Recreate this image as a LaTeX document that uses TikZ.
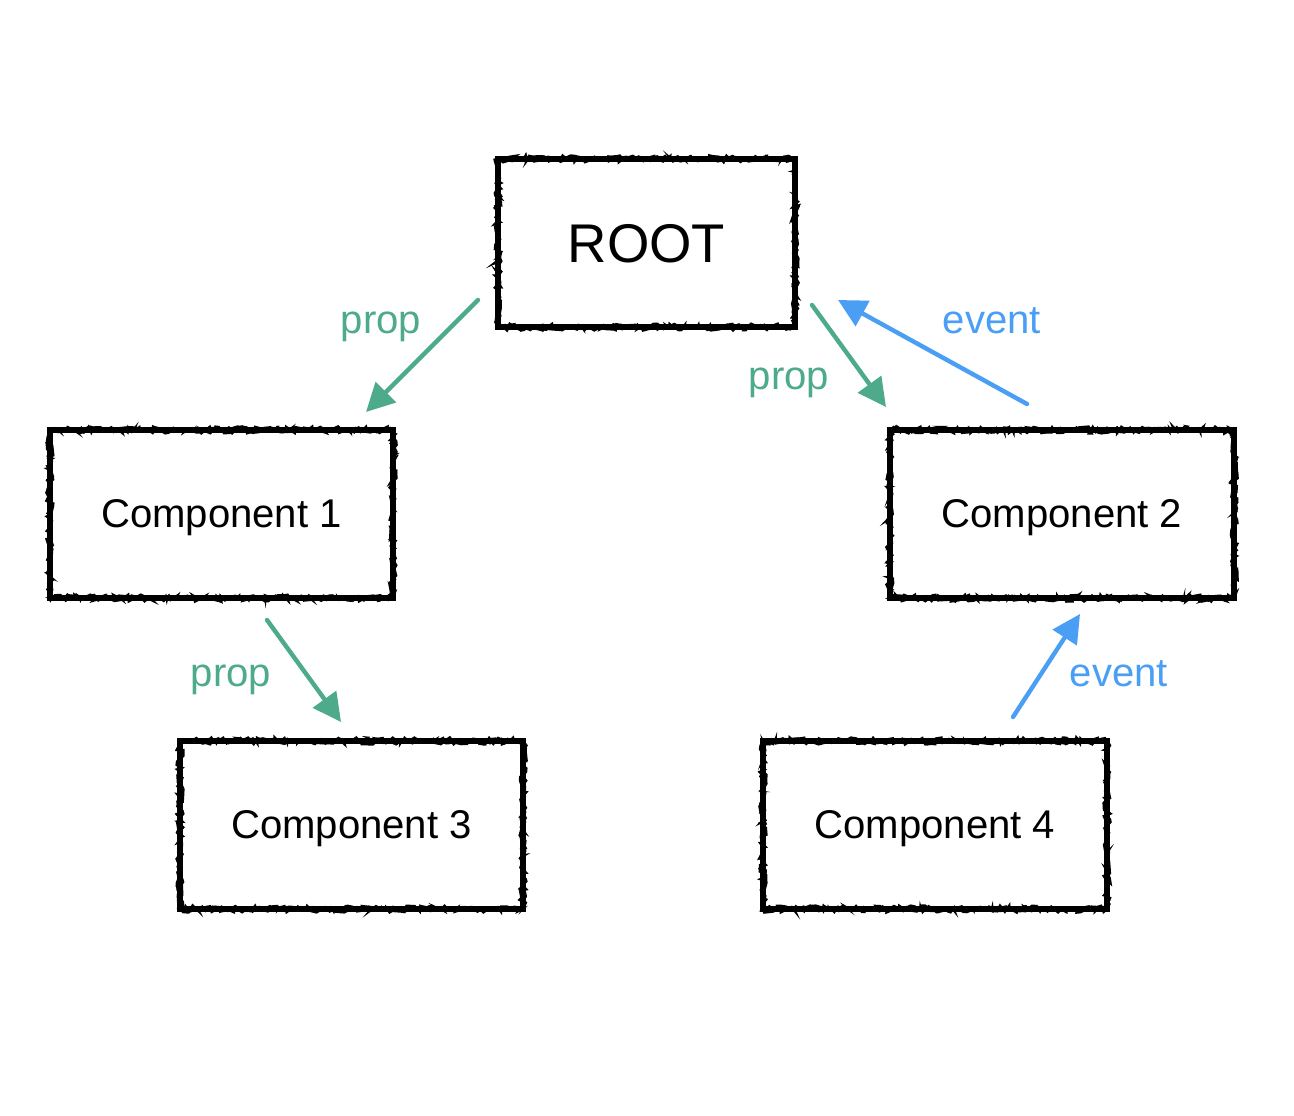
\documentclass[tikz,border=0pt]{standalone}
\usepackage{fontspec}
\setmainfont{Liberation Sans}
\usetikzlibrary{decorations.pathmorphing,arrows.meta}
\definecolor{propgreen}{HTML}{4DAA8A}
\definecolor{eventblue}{HTML}{4A9FF5}
\begin{document}
\begin{tikzpicture}[x=0.01cm,y=-0.01cm,
  sketchbox/.style={draw=black, line width=1.7pt, minimum height=1.68cm, inner sep=0pt, text depth=0pt,
    font=\fontsize{11.4pt}{13pt}\selectfont,
    postaction={draw, line width=0.7pt, decorate, decoration={random steps, segment length=1.2pt, amplitude=1.0pt}},
    preaction={draw, line width=0.5pt, decorate, decoration={random steps, segment length=0.9pt, amplitude=1.1pt}}},
  proparrow/.style={draw=propgreen, line width=1.25pt, line cap=round, -{Triangle[length=8pt,width=8pt]}},
  eventarrow/.style={draw=eventblue, line width=1.25pt, line cap=round, -{Triangle[length=8pt,width=8pt]}},
  proplabel/.style={text=propgreen, font=\fontsize{11.4pt}{13pt}\selectfont, inner sep=0pt},
  eventlabel/.style={text=eventblue, font=\fontsize{11.4pt}{13pt}\selectfont, inner sep=0pt}
]
\useasboundingbox (0,0) rectangle (1294,1116);
\fill[white] (0,0) rectangle (1294,1116);

\node[sketchbox, minimum width=2.97cm, font=\fontsize{15.5pt}{18pt}\selectfont] (root) at (646.5,243) {ROOT};
\node[sketchbox, minimum width=3.43cm] (c1) at (221.5,514) {Component 1};
\node[sketchbox, minimum width=3.44cm] (c2) at (1062,514) {Component 2};
\node[sketchbox, minimum width=3.43cm] (c3) at (351.5,825) {Component 3};
\node[sketchbox, minimum width=3.44cm] (c4) at (935,825) {Component 4};

\coordinate (a1s) at (478,300);
\coordinate (a1e) at (366,412);
\coordinate (a2s) at (812,305);
\coordinate (a2e) at (886,407);
\coordinate (a3s) at (1027,404);
\coordinate (a3e) at (838,300);
\coordinate (a4s) at (267,620);
\coordinate (a4e) at (341,722);
\coordinate (a5s) at (1013,717);
\coordinate (a5e) at (1080,614);

\draw[proparrow] (a1s) -- (a1e);
\draw[proparrow] (a2s) -- (a2e);
\draw[eventarrow] (a3s) -- (a3e);
\draw[proparrow] (a4s) -- (a4e);
\draw[eventarrow] (a5s) -- (a5e);

\node[proplabel] (l1) at (381,327) {prop};
\node[proplabel] (l2) at (789,383) {prop};
\node[eventlabel] (l3) at (992,321) {event};
\node[proplabel] (l4) at (231,680) {prop};
\node[eventlabel] (l5) at (1119,674) {event};
\end{tikzpicture}
\end{document}
